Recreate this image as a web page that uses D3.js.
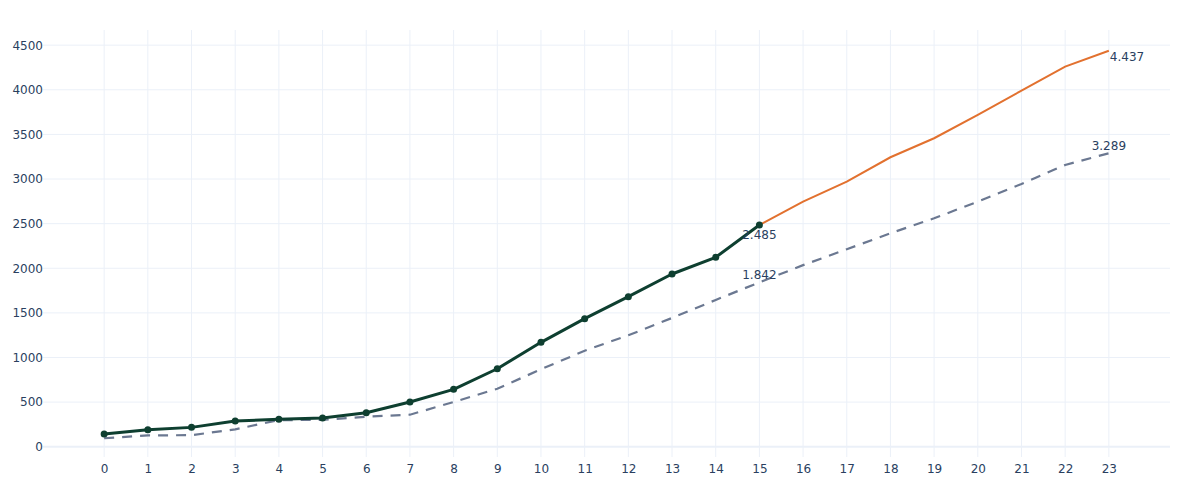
<!DOCTYPE html>
<html>
<head>
<meta charset="utf-8">
<script src="https://cdn.jsdelivr.net/npm/d3@7"></script>
<style>
  body { margin: 0; background: #fff; }
  svg text { font-family: "DejaVu Sans", Verdana, sans-serif; font-size: 12px; fill: #2a3f5f; }
</style>
</head>
<body>
<div id="chart"></div>
<script>
// values
var steps = d3.range(0, 24)
var actual = [142, 191, 217, 288, 307, 322, 381, 501, 643, 874, 1170, 1435, 1682, 1936, 2123, 2485]
var forecast = [2485, 2747, 2971, 3244, 3457, 3718, 3991, 4260, 4437]
var baseline = [95, 127, 130, 195, 299, 300, 337, 359, 501, 650, 868, 1076, 1249, 1443, 1645, 1842,
  2035, 2213, 2392, 2560, 2747, 2945, 3158, 3289]
var yTicks = [0, 500, 1000, 1500, 2000, 2500, 3000, 3500, 4000, 4500]
var labels = [
  { x: 15, y: 2485, text: '2.485', pos: 'below' },
  { x: 15, y: 1842, text: '1.842', pos: 'above' },
  { x: 23, y: 4437, text: '4.437', pos: 'belowright' },
  { x: 23, y: 3289, text: '3.289', pos: 'above' }
]

var width = 1200, height = 500
var margin = { left: 43, right: 30, top: 30, bottom: 43 }

var svg = d3.select('#chart').append('svg')
  .attr('width', width).attr('height', height)

var x = d3.scaleLinear().domain([-1.4, 24.4]).range([margin.left, width - margin.right])
var y = d3.scaleLinear().domain([-115, 4670]).range([height - margin.bottom, margin.top])

// grid
svg.append('g').selectAll('line').data(steps).enter().append('line')
  .attr('x1', d => x(d)).attr('x2', d => x(d))
  .attr('y1', margin.top).attr('y2', height - margin.bottom)
  .attr('stroke', '#ebf0f8').attr('stroke-width', 1)

svg.append('g').selectAll('line').data(yTicks).enter().append('line')
  .attr('x1', margin.left).attr('x2', width - margin.right)
  .attr('y1', d => y(d)).attr('y2', d => y(d))
  .attr('stroke', '#ebf0f8').attr('stroke-width', d => d === 0 ? 2 : 1)

// axes (labels only)
var yAxis = svg.append('g')
  .attr('transform', 'translate(' + margin.left + ',0)')
  .call(d3.axisLeft(y).tickValues(yTicks).tickSize(0).tickPadding(0).tickFormat(d3.format('d')))
yAxis.select('.domain').remove()
yAxis.selectAll('text').attr('font-family', null).attr('font-size', null).attr('fill', null)

var xAxis = svg.append('g')
  .attr('transform', 'translate(0,' + (height - margin.bottom) + ')')
  .call(d3.axisBottom(x).tickValues(steps).tickSize(0).tickPadding(7).tickFormat(d3.format('d')))
xAxis.select('.domain').remove()
xAxis.selectAll('text').attr('font-family', null).attr('font-size', null).attr('fill', null)

var line = d3.line().x(d => x(d[0])).y(d => y(d[1]))

svg.append('path')
  .datum(baseline.map((v, i) => [i, v]))
  .attr('d', line).attr('fill', 'none')
  .attr('stroke', '#6b7891').attr('stroke-width', 2.2).attr('stroke-dasharray', '10,8')

svg.append('path')
  .datum(forecast.map((v, i) => [i + 15, v]))
  .attr('d', line).attr('fill', 'none')
  .attr('stroke', '#e2712f').attr('stroke-width', 2)

svg.append('path')
  .datum(actual.map((v, i) => [i, v]))
  .attr('d', line).attr('fill', 'none')
  .attr('stroke', '#0e3f30').attr('stroke-width', 3).attr('stroke-linejoin', 'round')

svg.append('g').selectAll('circle').data(actual).enter().append('circle')
  .attr('cx', (d, i) => x(i)).attr('cy', d => y(d)).attr('r', 3.5)
  .attr('fill', '#0e3f30')

// value labels
svg.append('g').selectAll('text').data(labels).enter().append('text')
  .attr('x', d => d.pos === 'belowright' ? x(d.x) + 1 : x(d.x))
  .attr('y', d => d.pos === 'above' ? y(d.y) - 3 : (d.pos === 'belowright' ? y(d.y) + 10 : y(d.y) + 14))
  .attr('text-anchor', d => d.pos === 'belowright' ? 'start' : 'middle')
  .text(d => d.text)
</script>
</body>
</html>
